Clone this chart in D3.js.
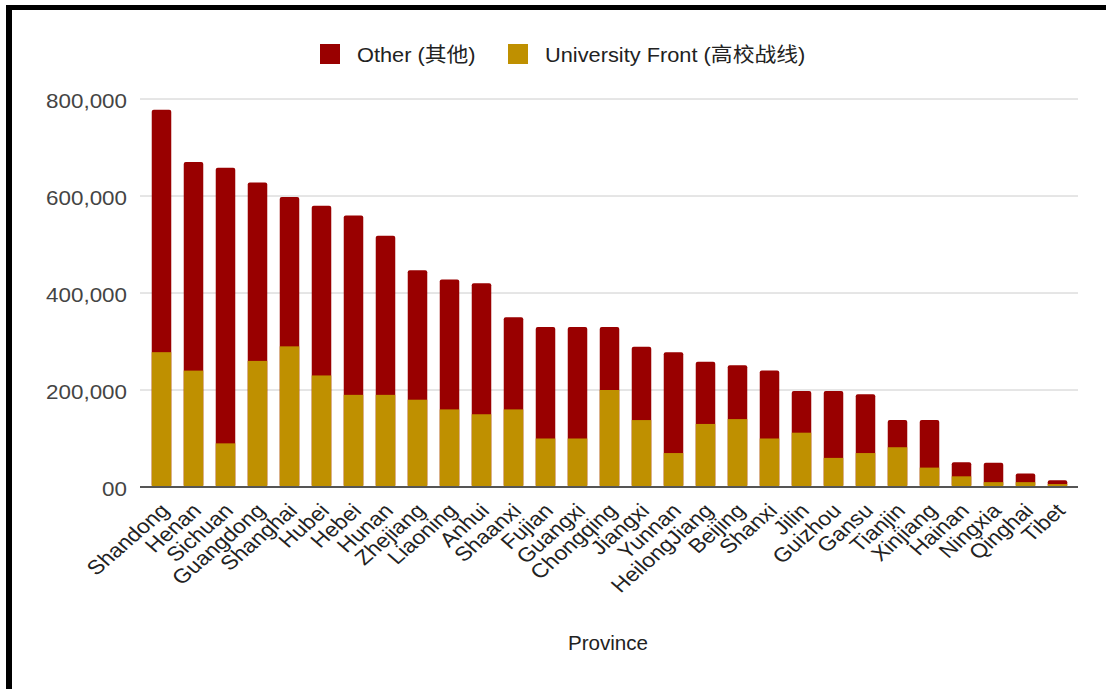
<!DOCTYPE html>
<html>
<head>
<meta charset="utf-8">
<script src="https://cdn.jsdelivr.net/npm/d3@7"></script>
<style>
  body { margin: 0; background: #fff; }
  svg text { font-family: Arial, "Liberation Sans", "Noto Sans CJK SC", sans-serif; }
</style>
</head>
<body>
<div class="chart"></div>
<script>
// data
const provinces = ["Shandong", "Henan", "Sichuan", "Guangdong", "Shanghai", "Hubei", "Hebei", "Hunan",
  "Zhejiang", "Liaoning", "Anhui", "Shaanxi", "Fujian", "Guangxi", "Chongqing", "Jiangxi", "Yunnan",
  "HeilongJiang", "Beijing", "Shanxi", "Jilin", "Guizhou", "Gansu", "Tianjin", "Xinjiang", "Hainan",
  "Ningxia", "Qinghai", "Tibet"]
const universityFront = [278000, 240000, 90000, 260000, 290000, 230000, 190000, 190000,
  180000, 160000, 150000, 160000, 100000, 100000, 200000, 138000, 70000,
  130000, 140000, 100000, 112000, 60000, 70000, 82000, 40000, 22000,
  10000, 10000, 6000]
const totals = [778000, 670000, 658000, 628000, 598000, 580000, 560000, 518000,
  447000, 428000, 420000, 350000, 330000, 330000, 330000, 289000, 278000,
  258000, 251000, 240000, 198000, 198000, 191000, 138000, 138000, 51000,
  50000, 28000, 14000]
const seriesNames = ["Other (其他)", "University Front (高校战线)"]
const seriesColors = ["#990000", "#bf9000"]
const yTicks = [0, 200000, 400000, 600000, 800000]
const yTickLabels = ["00", "200,000", "400,000", "600,000", "800,000"]

const data = provinces.map((p, i) => ({ province: p, front: universityFront[i], total: totals[i] }))

const W = 1106, H = 689
// the source picture is a bit wider than tall, so text gets stretched sideways
const stretch = 1.12
const svg = d3.select(".chart").append("svg").attr("width", W).attr("height", H)

// frame (left + top black edges)
svg.append("rect").attr("x", 6).attr("y", 5).attr("width", W - 6).attr("height", 5).attr("fill", "#000")
svg.append("rect").attr("x", 6).attr("y", 5).attr("width", 6).attr("height", H - 5).attr("fill", "#000")

const x = d3.scaleBand().domain(provinces).range([145.5, 1073.5]).paddingInner(0.39).paddingOuter(0.195)
const y = d3.scaleLinear().domain([0, 800000]).range([487, 99])

// gridlines
svg.append("g").selectAll("line").data(yTicks.slice(1)).join("line")
  .attr("x1", 140).attr("x2", 1078)
  .attr("y1", d => y(d)).attr("y2", d => y(d))
  .attr("stroke", "#cccccc").attr("stroke-width", 1)

// y axis labels
svg.append("g").selectAll("text").data(yTicks).join("text")
  .attr("transform", d => `translate(127,${y(d) + 1.5}) scale(${stretch},1)`)
  .attr("text-anchor", "end").attr("dominant-baseline", "central")
  .attr("font-size", 20).attr("fill", "#444")
  .text((d, i) => yTickLabels[i])

// bars: other on top (rounded), university front at bottom
const bars = svg.append("g")
bars.selectAll(".other").data(data).join("rect")
  .attr("class", "other")
  .attr("x", d => x(d.province)).attr("width", x.bandwidth())
  .attr("y", d => y(d.total)).attr("height", d => y(0) - y(d.total))
  .attr("rx", 2).attr("fill", seriesColors[0])
bars.selectAll(".front").data(data).join("rect")
  .attr("class", "front")
  .attr("x", d => x(d.province)).attr("width", x.bandwidth())
  .attr("y", d => y(d.front)).attr("height", d => y(0) - y(d.front))
  .attr("fill", seriesColors[1])

// baseline
svg.append("line").attr("x1", 140).attr("x2", 1078).attr("y1", y(0)).attr("y2", y(0))
  .attr("stroke", "#555").attr("stroke-width", 2)

// x labels
svg.append("g").selectAll("text").data(provinces).join("text")
  .attr("text-anchor", "end")
  .attr("font-size", 20).attr("fill", "#222")
  .attr("transform", d => `translate(${x(d) + x.bandwidth() / 2 + 9},${y(0) + 25}) scale(1.15,1) rotate(-45)`)
  .text(d => d)

// axis title
svg.append("text").attr("transform", "translate(608,650) scale(1.03,1)").attr("text-anchor", "middle")
  .attr("font-size", 20).attr("fill", "#222").text("Province")

// legend
const legend = svg.append("g")
const legendX = [320, 508]
legend.selectAll("rect").data(seriesNames).join("rect")
  .attr("x", (d, i) => legendX[i]).attr("y", 44).attr("width", 20).attr("height", 20)
  .attr("fill", (d, i) => seriesColors[i])
legend.selectAll("text").data(seriesNames).join("text")
  .attr("transform", (d, i) => `translate(${legendX[i] + 37},62) scale(1.09,1)`)
  .attr("font-size", 20).attr("fill", "#222")
  .text(d => d)
</script>
</body>
</html>
